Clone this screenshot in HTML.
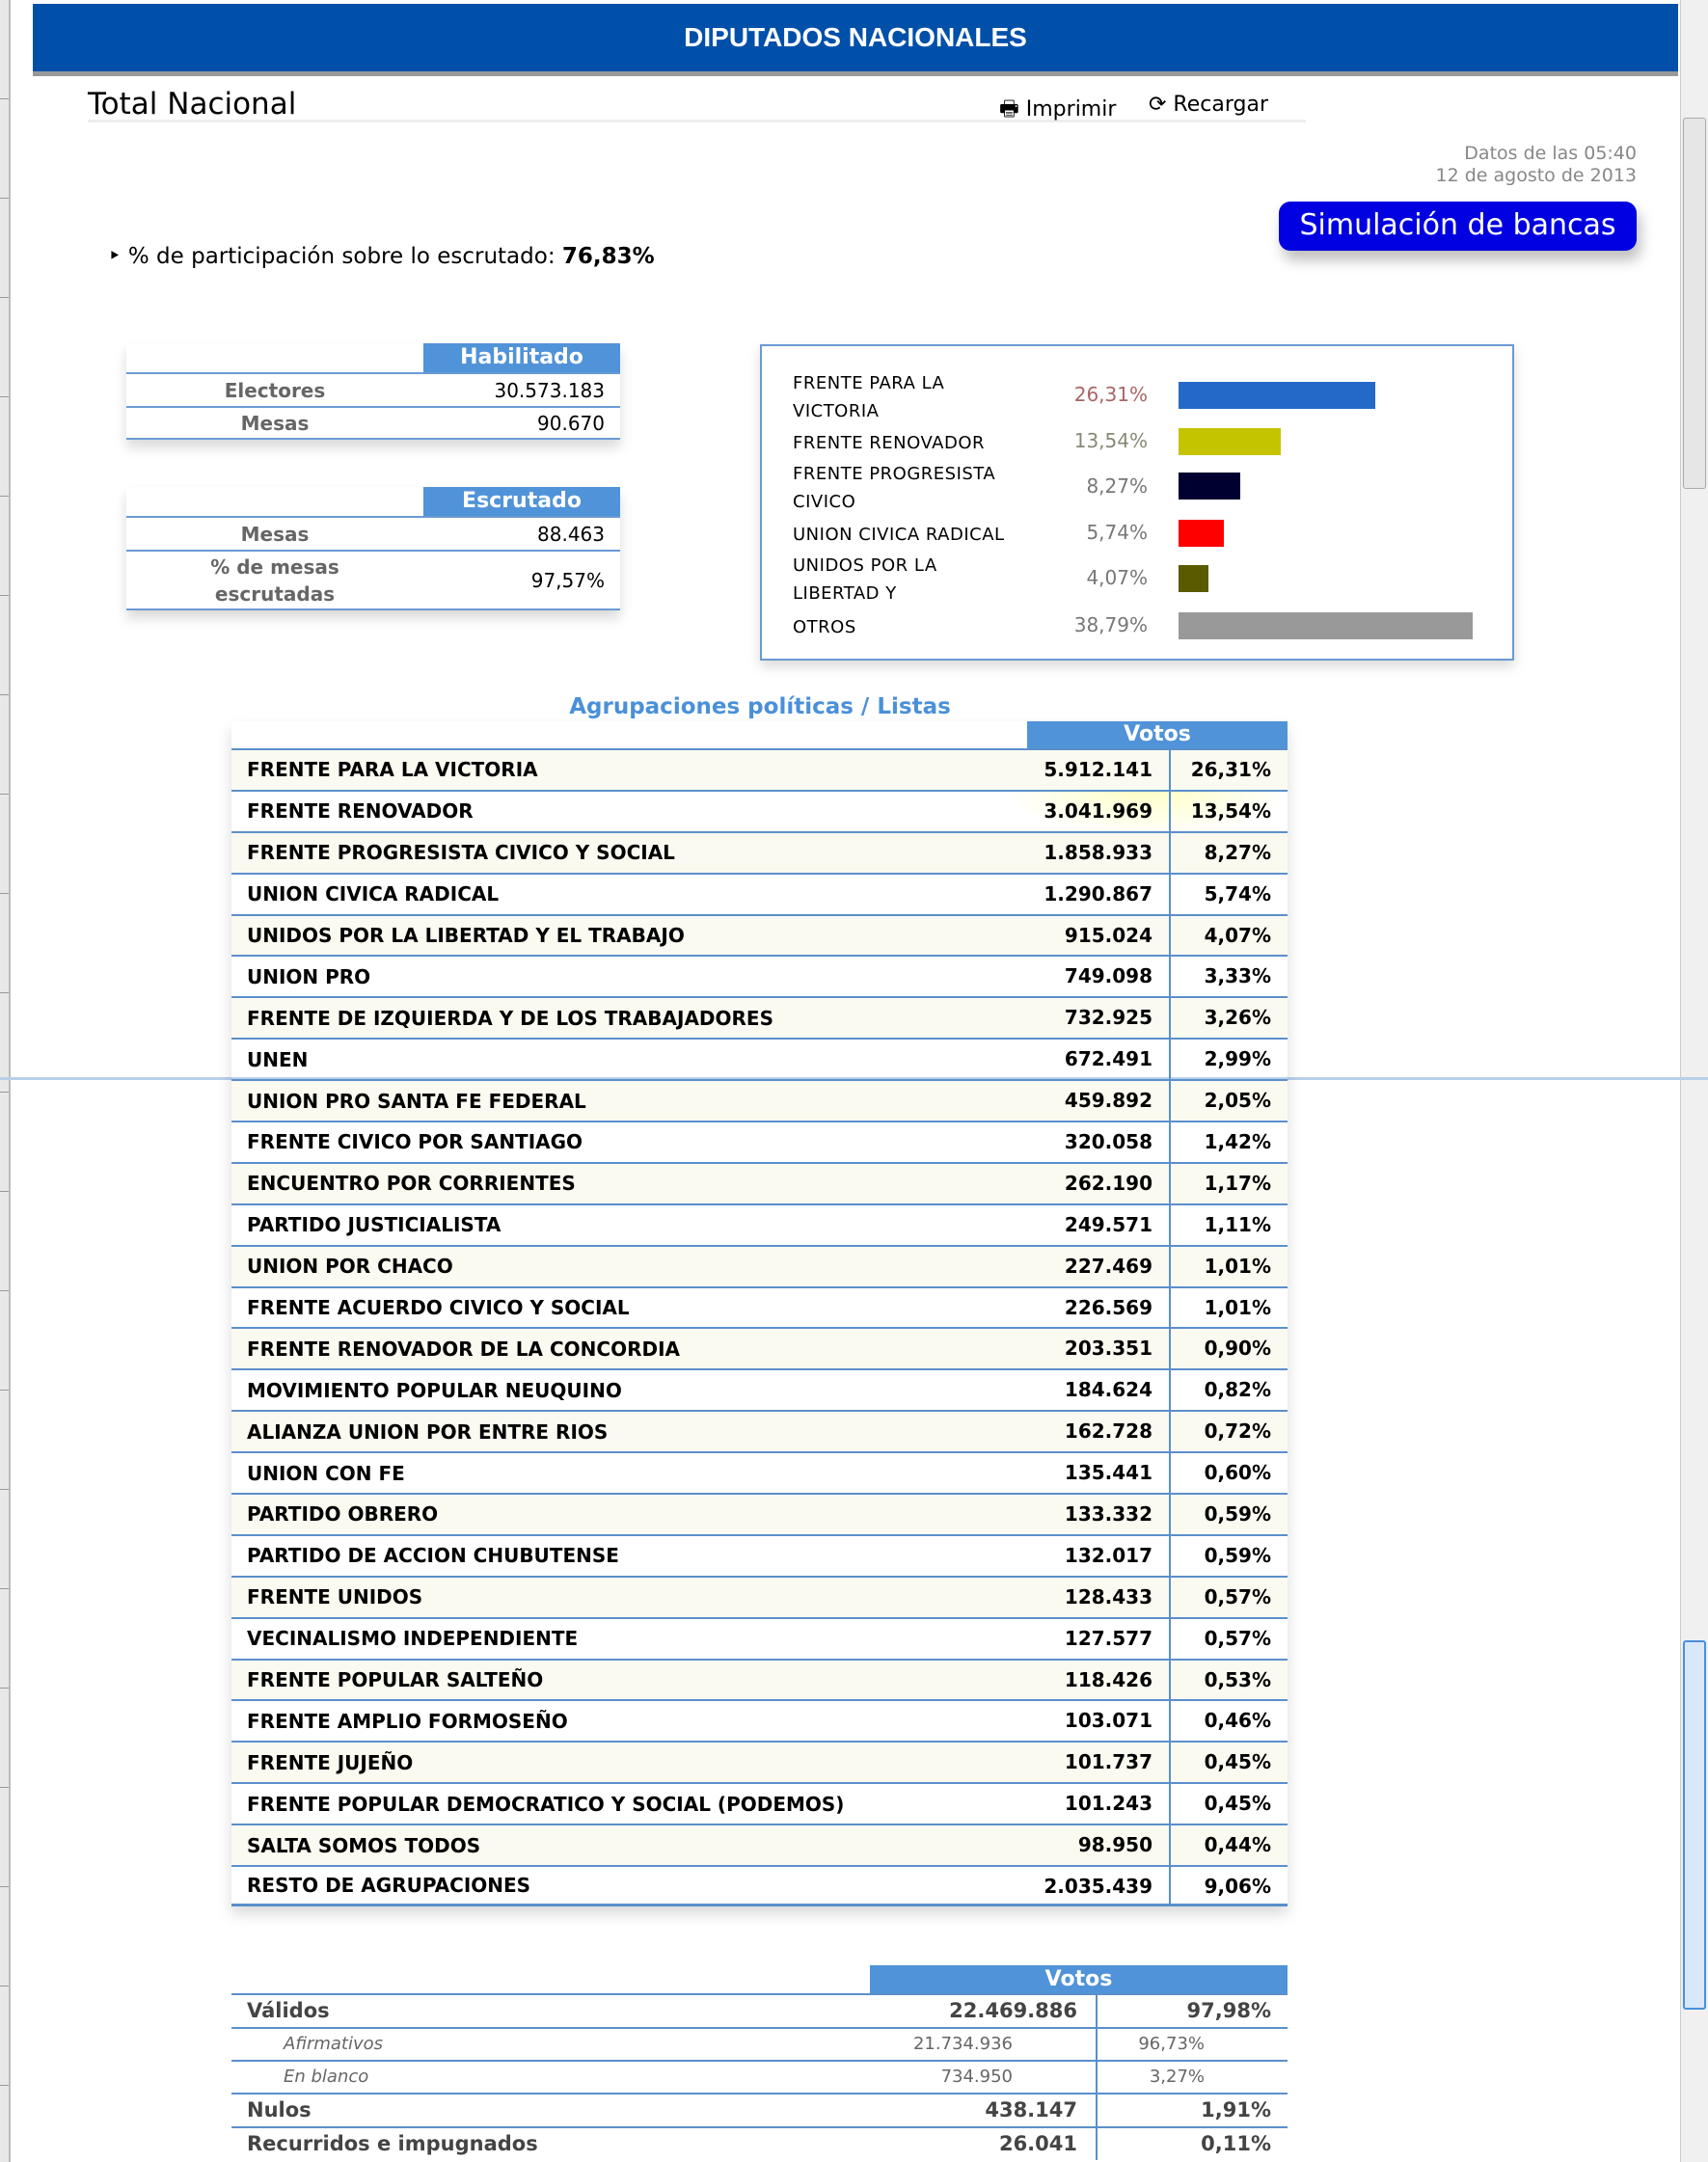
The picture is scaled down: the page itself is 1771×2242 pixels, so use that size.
<!DOCTYPE html>
<html><head><meta charset="utf-8"><style>
*{margin:0;padding:0;box-sizing:border-box}
body{width:1771px;height:2242px;background:#fff;position:relative;overflow:hidden;font-family:"DejaVu Sans","Liberation Sans",sans-serif;color:#000}
.a{position:absolute}
.hdr{left:34px;top:4px;width:1706px;height:75px;background:#0050aa;border-bottom:5px solid #999;color:#fff;font:bold 28px "Liberation Sans",sans-serif;text-align:center;line-height:70px}
.small td{}
.st{position:absolute;width:512px;box-shadow:0 8px 12px rgba(0,0,0,.15)}
.st .h{margin-left:308px;height:30px;background:#5093d8;color:#fff;font-weight:bold;font-size:22px;text-align:center;line-height:30px}
.st .r{border-top:2px solid #6a9ad4;display:flex;align-items:center;font-size:20px}
.st .r .l{width:308px;text-align:center;color:#666;font-weight:bold}
.st .r .v{flex:1;text-align:right;padding-right:16px}
.chart{left:788px;top:357px;width:782px;height:328px;border:2px solid #6a9ad4;box-shadow:0 6px 12px rgba(0,0,0,.15)}
.cl{position:absolute;left:32px;font-size:18px;line-height:29px;letter-spacing:.5px}
.cp{position:absolute;right:378px;font-size:20px;color:#777}
.cb{position:absolute;left:432px;height:28px}
.mt{left:240px;top:748px;width:1095px;box-shadow:0 8px 14px rgba(0,0,0,.15)}
.mt .h{margin-left:825px;height:28px;background:#5093d8;color:#fff;font-weight:bold;font-size:22px;text-align:center;line-height:28px}
.row{height:42.9px;border-top:2px solid #5b8fcc;display:flex;align-items:center;font-weight:bold;font-size:20px}
.row:nth-child(odd){background:#fbfaf1}
.row .n{flex:1;padding-left:16px}
.row .v{width:152px;text-align:right;padding-right:17px;height:100%;line-height:40px}
.row .p{width:123px;text-align:right;padding-right:17px;border-left:2px solid #5b8fcc;height:100%;line-height:40px}
.bt{left:240px;top:2038px;width:1095px}
.bt .h{margin-left:662px;height:29px;background:#5093d8;color:#fff;font-weight:bold;font-size:22px;text-align:center;line-height:29px}
.br{border-top:2px solid #5b8fcc;display:flex;align-items:center}
.br .n{flex:1;padding-left:16px}
.br .v{width:216px;text-align:right;padding-right:19px;border-right:2px solid #5b8fcc;height:100%}
.br .p{width:197px;text-align:right;padding-right:17px;height:100%}
.big{height:35px;font-weight:bold;font-size:21px;color:#444;line-height:33px}
.sm{height:34px;font-style:italic;font-size:18px;color:#666;line-height:32px}
.sm .n{padding-left:54px}
.sm .v{padding-right:86px;font-style:normal}
.sm .p{padding-right:86px;font-style:normal}
.sb{background:#f0f0f0;border-left:1px solid #ccc}
</style></head><body>
<div class="a" style="left:0;top:0;width:11px;height:2242px;background:repeating-linear-gradient(#e8e8e8 0 102px,#999 102px 103px);border-right:2px solid #bbb"></div>
<div class="a hdr">DIPUTADOS NACIONALES</div>
<div class="a sb" style="left:1742px;top:0;width:29px;height:1119px"></div>
<div class="a" style="left:1745px;top:122px;width:24px;height:385px;background:#e6e6e6;border:1px solid #aaa;border-radius:3px"></div>
<div class="a" style="left:0;top:1117px;width:1771px;height:3px;background:#b8d0ea"></div>
<div class="a sb" style="left:1742px;top:1120px;width:29px;height:1122px"></div>
<div class="a" style="left:1745px;top:1701px;width:24px;height:383px;background:#d8e8f8;border:2px solid #4a90d9;border-radius:3px"></div>
<div class="a" style="left:91px;top:90px;font:31px 'DejaVu Sans',sans-serif">Total Nacional</div>
<div class="a" style="left:91px;top:124px;width:1263px;height:3px;background:#eee"></div>
<div class="a" style="left:1036px;top:96px;font-size:22px">🖶 Imprimir</div>
<div class="a" style="left:1191px;top:96px;font-size:22px">⟳ Recargar</div>
<div class="a" style="right:74px;top:148px;font-size:19px;color:#888;text-align:right;line-height:23px">Datos de las 05:40<br>12 de agosto de 2013</div>
<div class="a" style="left:1326px;top:209px;width:371px;height:51px;background:#0000e0;border-radius:12px;color:#fff;font-size:30px;text-align:center;line-height:50px;box-shadow:4px 10px 14px rgba(0,0,0,.25)">Simulación de bancas</div>
<div class="a" style="left:112px;top:253px;font-size:23px">‣ % de participación sobre lo escrutado: <b>76,83%</b></div>

<div class="st" style="left:131px;top:356px"><div class="h">Habilitado</div>
<div class="r" style="height:35px"><div class="l">Electores</div><div class="v">30.573.183</div></div>
<div class="r" style="height:35px;border-bottom:2px solid #6a9ad4"><div class="l">Mesas</div><div class="v">90.670</div></div></div>

<div class="st" style="left:131px;top:505px"><div class="h">Escrutado</div>
<div class="r" style="height:35px"><div class="l">Mesas</div><div class="v">88.463</div></div>
<div class="r" style="height:63px;border-bottom:2px solid #6a9ad4"><div class="l" style="line-height:28px">% de mesas<br>escrutadas</div><div class="v">97,57%</div></div></div>

<div class="a chart">
<div class="cl" style="top:24px">FRENTE PARA LA<br>VICTORIA</div>
<div class="cl" style="top:86px">FRENTE RENOVADOR</div>
<div class="cl" style="top:118px">FRENTE PROGRESISTA<br>CIVICO</div>
<div class="cl" style="top:181px">UNION CIVICA RADICAL</div>
<div class="cl" style="top:213px">UNIDOS POR LA<br>LIBERTAD Y</div>
<div class="cl" style="top:277px">OTROS</div>
<div class="cp" style="top:38px;color:#a66">26,31%</div>
<div class="cp" style="top:86px;color:#887">13,54%</div>
<div class="cp" style="top:133px">8,27%</div>
<div class="cp" style="top:181px">5,74%</div>
<div class="cp" style="top:228px">4,07%</div>
<div class="cp" style="top:277px">38,79%</div>
<div class="cb" style="top:37px;width:204px;background:#2469c8"></div>
<div class="cb" style="top:85px;width:106px;background:#c4c400"></div>
<div class="cb" style="top:131px;width:64px;background:#000030"></div>
<div class="cb" style="top:180px;width:47px;background:#f00"></div>
<div class="cb" style="top:227px;width:31px;background:#5a5a00"></div>
<div class="cb" style="top:276px;width:305px;background:#999"></div>
</div>

<div class="a" style="left:0;width:1576px;top:720px;text-align:center;font-size:23px;font-weight:bold;color:#4a90d9">Agrupaciones políticas / Listas</div>
<div class="a" style="left:1040px;top:760px;width:300px;height:110px;background:radial-gradient(ellipse at center,rgba(255,255,120,.45),rgba(255,255,255,0) 70%)"></div>

<div class="a mt"><div class="h">Votos</div><div>
<div class="row"><div class="n">FRENTE PARA LA VICTORIA</div><div class="v">5.912.141</div><div class="p">26,31%</div></div>
<div class="row"><div class="n">FRENTE RENOVADOR</div><div class="v">3.041.969</div><div class="p">13,54%</div></div>
<div class="row"><div class="n">FRENTE PROGRESISTA CIVICO Y SOCIAL</div><div class="v">1.858.933</div><div class="p">8,27%</div></div>
<div class="row"><div class="n">UNION CIVICA RADICAL</div><div class="v">1.290.867</div><div class="p">5,74%</div></div>
<div class="row"><div class="n">UNIDOS POR LA LIBERTAD Y EL TRABAJO</div><div class="v">915.024</div><div class="p">4,07%</div></div>
<div class="row"><div class="n">UNION PRO</div><div class="v">749.098</div><div class="p">3,33%</div></div>
<div class="row"><div class="n">FRENTE DE IZQUIERDA Y DE LOS TRABAJADORES</div><div class="v">732.925</div><div class="p">3,26%</div></div>
<div class="row"><div class="n">UNEN</div><div class="v">672.491</div><div class="p">2,99%</div></div>
<div class="row"><div class="n">UNION PRO SANTA FE FEDERAL</div><div class="v">459.892</div><div class="p">2,05%</div></div>
<div class="row"><div class="n">FRENTE CIVICO POR SANTIAGO</div><div class="v">320.058</div><div class="p">1,42%</div></div>
<div class="row"><div class="n">ENCUENTRO POR CORRIENTES</div><div class="v">262.190</div><div class="p">1,17%</div></div>
<div class="row"><div class="n">PARTIDO JUSTICIALISTA</div><div class="v">249.571</div><div class="p">1,11%</div></div>
<div class="row"><div class="n">UNION POR CHACO</div><div class="v">227.469</div><div class="p">1,01%</div></div>
<div class="row"><div class="n">FRENTE ACUERDO CIVICO Y SOCIAL</div><div class="v">226.569</div><div class="p">1,01%</div></div>
<div class="row"><div class="n">FRENTE RENOVADOR DE LA CONCORDIA</div><div class="v">203.351</div><div class="p">0,90%</div></div>
<div class="row"><div class="n">MOVIMIENTO POPULAR NEUQUINO</div><div class="v">184.624</div><div class="p">0,82%</div></div>
<div class="row"><div class="n">ALIANZA UNION POR ENTRE RIOS</div><div class="v">162.728</div><div class="p">0,72%</div></div>
<div class="row"><div class="n">UNION CON FE</div><div class="v">135.441</div><div class="p">0,60%</div></div>
<div class="row"><div class="n">PARTIDO OBRERO</div><div class="v">133.332</div><div class="p">0,59%</div></div>
<div class="row"><div class="n">PARTIDO DE ACCION CHUBUTENSE</div><div class="v">132.017</div><div class="p">0,59%</div></div>
<div class="row"><div class="n">FRENTE UNIDOS</div><div class="v">128.433</div><div class="p">0,57%</div></div>
<div class="row"><div class="n">VECINALISMO INDEPENDIENTE</div><div class="v">127.577</div><div class="p">0,57%</div></div>
<div class="row"><div class="n">FRENTE POPULAR SALTEÑO</div><div class="v">118.426</div><div class="p">0,53%</div></div>
<div class="row"><div class="n">FRENTE AMPLIO FORMOSEÑO</div><div class="v">103.071</div><div class="p">0,46%</div></div>
<div class="row"><div class="n">FRENTE JUJEÑO</div><div class="v">101.737</div><div class="p">0,45%</div></div>
<div class="row"><div class="n">FRENTE POPULAR DEMOCRATICO Y SOCIAL (PODEMOS)</div><div class="v">101.243</div><div class="p">0,45%</div></div>
<div class="row"><div class="n">SALTA SOMOS TODOS</div><div class="v">98.950</div><div class="p">0,44%</div></div>
<div class="row" style="border-bottom:3px solid #5b8fcc"><div class="n">RESTO DE AGRUPACIONES</div><div class="v">2.035.439</div><div class="p">9,06%</div></div>
</div></div>

<div class="a bt"><div class="h">Votos</div>
<div class="br big"><div class="n">Válidos</div><div class="v">22.469.886</div><div class="p">97,98%</div></div>
<div class="br sm"><div class="n">Afirmativos</div><div class="v" style="padding-right:86px">21.734.936</div><div class="p">96,73%</div></div>
<div class="br sm"><div class="n">En blanco</div><div class="v">734.950</div><div class="p">3,27%</div></div>
<div class="br big"><div class="n">Nulos</div><div class="v">438.147</div><div class="p">1,91%</div></div>
<div class="br big"><div class="n">Recurridos e impugnados</div><div class="v">26.041</div><div class="p">0,11%</div></div>
</div>
</body></html>
